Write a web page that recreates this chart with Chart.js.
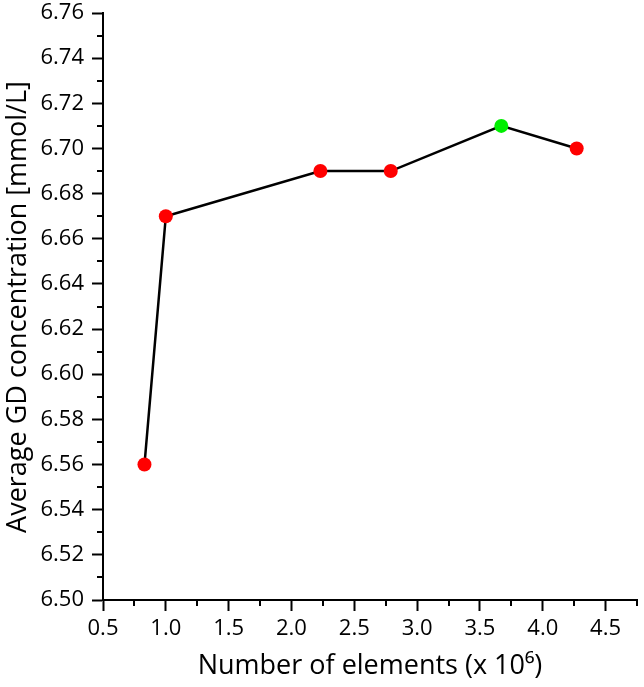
<!DOCTYPE html>
<html>
<head>
<meta charset="utf-8">
<script src="https://cdn.jsdelivr.net/npm/chart.js@4/dist/chart.umd.min.js"></script>
<style>
  html, body { margin: 0; padding: 0; background: #fff; }
  #wrap { width: 644px; height: 687px; }
</style>
</head>
<body>
<div id="wrap"><canvas id="c" width="644" height="687"></canvas></div>
<script>
// data
var elements = [0.83, 1.0, 2.23, 2.79, 3.67, 4.27];   // x 10^6
var gdConc = [6.56, 6.67, 6.69, 6.69, 6.71, 6.70];    // mmol/L
var highlightIndex = 4;                               // the green point
var xTicks = [0.5, 1.0, 1.5, 2.0, 2.5, 3.0, 3.5, 4.0, 4.5];
var xTitle = 'Number of elements (x 10\u2076)';
var yTitle = 'Average GD concentration [mmol/L]';

var font_family = "'Open Sans', 'DejaVu Sans', sans-serif";
var clr_point = '#ff0000';
var clr_highlight = '#00ee00';

var pts = elements.map(function(x, i) { return {x: x, y: gdConc[i]}; });
var pointColors = elements.map(function(x, i) { return i == highlightIndex ? clr_highlight : clr_point; });

// small outward minor ticks + the rotated y title
var extras = {
  id: 'extras',
  afterDraw: function(chart) {
    var ctx = chart.ctx;
    var xs = chart.scales.x, ys = chart.scales.y;
    var area = chart.chartArea;
    ctx.save();
    ctx.strokeStyle = '#000';
    ctx.lineWidth = 2;
    ctx.beginPath();
    for (var v = 0.75; v <= xs.max + 1e-9; v += 0.5) {
      var px = Math.round(xs.getPixelForValue(v));
      ctx.moveTo(px, area.bottom);
      ctx.lineTo(px, area.bottom + 6);
    }
    for (var k = 1; k < 26; k += 2) {
      var py = Math.round(ys.getPixelForValue(6.5 + k * 0.01));
      ctx.moveTo(area.left, py);
      ctx.lineTo(area.left - 6, py);
    }
    ctx.stroke();

    ctx.fillStyle = '#000';
    ctx.font = '27px ' + font_family;
    ctx.textAlign = 'center';
    ctx.textBaseline = 'middle';
    ctx.translate(18, 307);
    ctx.rotate(-Math.PI / 2);
    ctx.fillText(yTitle, 0, 0);
    ctx.restore();
  }
};

var ctx = document.getElementById('c').getContext('2d');
window.myChart = new Chart(ctx, {
  type: 'scatter',
  data: {
    datasets: [
      {
        data: pts,
        showLine: true,
        borderColor: '#000',
        borderWidth: 2.5,
        pointRadius: 7,
        pointHoverRadius: 7,
        pointBorderWidth: 0,
        pointBackgroundColor: pointColors,
        pointBorderColor: pointColors
      }
    ]
  },
  options: {
    responsive: false,
    animation: false,
    events: [],
    layout: {
      padding: {top: 13, right: 5, left: 0, bottom: 0}
    },
    plugins: {
      legend: {display: false},
      tooltip: {enabled: false}
    },
    scales: {
      x: {
        type: 'linear',
        min: 0.5,
        max: 4.75,
        afterBuildTicks: function(scale) {
          scale.ticks = xTicks.map(function(v) { return {value: v}; });
        },
        afterFit: function(scale) { scale.height = 87; scale.paddingRight = 0; scale.paddingLeft = 0; },
        border: {display: true, color: '#000', width: 2},
        grid: {
          drawOnChartArea: false,
          drawTicks: true,
          tickLength: 11,
          tickWidth: 2,
          tickColor: '#000'
        },
        ticks: {
          stepSize: 0.5,
          color: '#000',
          padding: 5,
          maxRotation: 0,
          font: {family: font_family, size: 22},
          callback: function(v) { return Number(v).toFixed(1); }
        },
        title: {
          display: true,
          text: xTitle,
          color: '#000',
          padding: {top: 0, bottom: 4},
          font: {family: font_family, size: 27}
        }
      },
      y: {
        type: 'linear',
        min: 6.5,
        max: 6.76,
        afterFit: function(scale) { scale.width = 103; scale.paddingTop = 0; scale.paddingBottom = 0; },
        border: {display: true, color: '#000', width: 2},
        grid: {
          drawOnChartArea: false,
          drawTicks: true,
          tickLength: 11,
          tickWidth: 2,
          tickColor: '#000'
        },
        ticks: {
          stepSize: 0.02,
          color: '#000',
          padding: 8,
          font: {family: font_family, size: 22},
          callback: function(v) { return Number(v).toFixed(2); }
        }
      }
    }
  },
  plugins: [extras]
});
</script>
</body>
</html>
